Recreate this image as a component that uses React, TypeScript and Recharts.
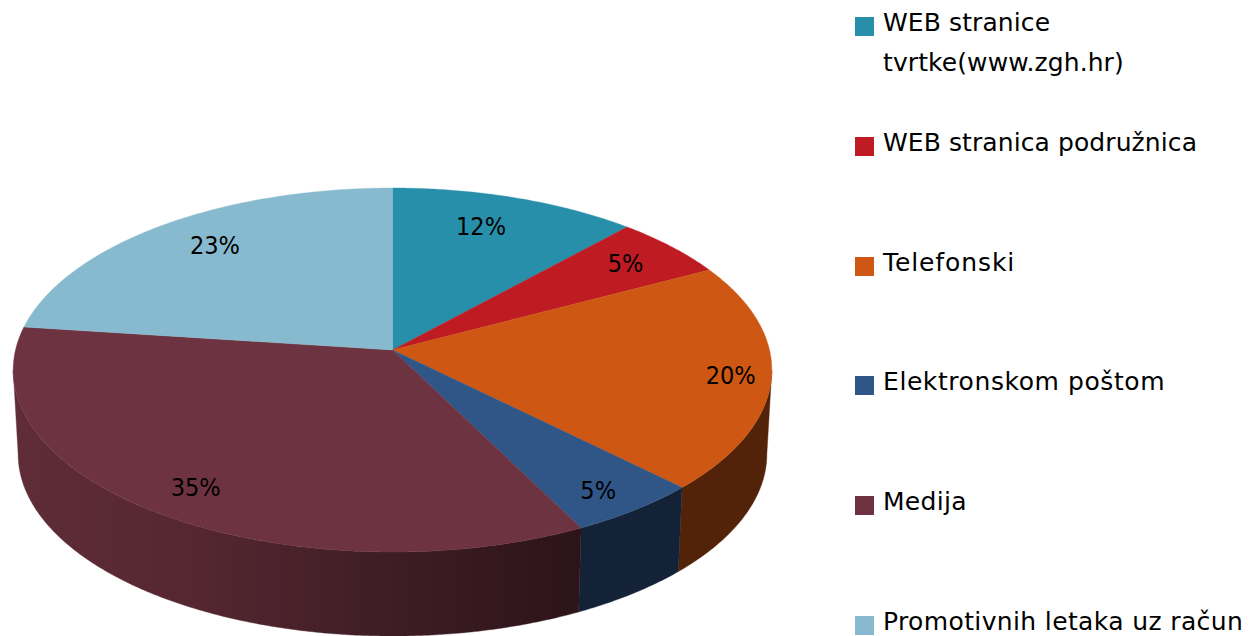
import React from 'react';
import { PieChart, Pie, Legend } from 'recharts';

const CATEGORIES = [
  'WEB stranice tvrtke(www.zgh.hr)',
  'WEB stranica podružnica',
  'Telefonski',
  'Elektronskom poštom',
  'Medija',
  'Promotivnih letaka uz račun',
];
const VALUES = [11.75, 5.49, 20.23, 5.08, 34.52, 22.93];
const COLORS = ['#288FAA', '#BE1B22', '#CD5713', '#305587', '#6E3340', '#88BACF'];

// Drawing style (not data)
const FONT = '"DejaVu Sans", sans-serif';
const LABEL_FONT = '"DejaVu Sans Condensed", "DejaVu Sans", sans-serif';
const TILT = 0.4769;
const PERSPECTIVE = 0.11;
const DEPTH = 84;
const BOTTOM_SCALE = 0.987;
const WALL_SHADE: [number, number][] = [[0, 0.86], [0.23, 0.77], [0.5, 0.56], [0.75, 0.4], [1, 0.4]];
const LABEL_RADIUS = 0.8;
const LABEL_NUDGE: [number, number][] = [[-12, 0], [7, -3], [36, 4], [15, 15], [-9, 11], [9, -3]];
const LEGEND_TRACKING = [0.1, 0.09, 0.9, 0.58, 0.3, 0.37];

const rows = CATEGORIES.map((name, i) => ({ name, value: VALUES[i], fill: COLORS[i] }));

const rad = (d: number) => (d * Math.PI) / 180;

function project(cx: number, cy: number, R: number, theta: number, r = 1): [number, number] {
  const w = 1 + PERSPECTIVE * r * Math.cos(rad(theta));
  return [cx + (R * r * Math.sin(rad(theta))) / w, cy - (R * TILT * r * Math.cos(rad(theta))) / w];
}

function shade(hex: string, k: number) {
  const n = parseInt(hex.slice(1), 16);
  const c = [(n >> 16) & 255, (n >> 8) & 255, n & 255].map((v) => Math.round(v * k));
  return `rgb(${c[0]},${c[1]},${c[2]})`;
}

function arc(from: number, to: number) {
  const out: number[] = [];
  const steps = Math.max(2, Math.ceil(Math.abs(to - from) / 0.5));
  for (let i = 0; i <= steps; i++) out.push(from + ((to - from) * i) / steps);
  return out;
}

function SliceShape(props: any) {
  const { cx, cy, outerRadius, startAngle, endAngle, fill, index } = props;
  const t0 = 90 - startAngle;
  const t1 = 90 - endAngle;
  const top = arc(t0, t1).map((t) => project(cx, cy, outerRadius, t));
  const face = `M${cx},${cy}L` + top.map((p) => `${p[0].toFixed(2)},${p[1].toFixed(2)}`).join('L') + 'Z';
  const tangent = (Math.acos(-PERSPECTIVE) * 180) / Math.PI;
  const a = Math.max(t0, tangent);
  const b = Math.min(t1, 360 - tangent);
  let wall = null;
  if (b > a) {
    const upper = arc(a, b).map((t) => project(cx, cy, outerRadius, t));
    const lower = upper
      .map(([x, y]) => [cx + (x - cx) * BOTTOM_SCALE, y + DEPTH] as [number, number])
      .reverse();
    const d = 'M' + upper.concat(lower).map((p) => `${p[0].toFixed(2)},${p[1].toFixed(2)}`).join('L') + 'Z';
    const id = `wall-${index ?? fill.slice(1)}`;
    wall = (
      <g>
        <defs>
          <linearGradient id={id} gradientUnits="userSpaceOnUse" x1={cx - outerRadius} x2={cx + outerRadius} y1={0} y2={0}>
            {WALL_SHADE.map(([o, k]) => (
              <stop key={o} offset={o} stopColor={shade(fill, k)} />
            ))}
          </linearGradient>
        </defs>
        <path d={d} fill={`url(#${id})`} stroke={`url(#${id})`} strokeWidth={0.4} />
      </g>
    );
  }
  return (
    <g>
      {wall}
      <path d={face} fill={fill} stroke={fill} strokeWidth={0.4} />
    </g>
  );
}

function SliceLabel(props: any) {
  const { cx, cy, outerRadius, midAngle, percent, index } = props;
  const [x, y] = project(cx, cy, outerRadius, 90 - midAngle, LABEL_RADIUS);
  const [dx, dy] = LABEL_NUDGE[index];
  return (
    <text x={x + dx} y={y + dy} textAnchor="middle" dominantBaseline="central" fontFamily={LABEL_FONT} fontSize={25} fill="#000">
      {`${Math.round(percent * 100)}%`}
    </text>
  );
}

function LegendBox({ payload }: any) {
  return (
    <div style={{ position: 'relative', width: 395, height: 636, fontFamily: FONT, fontSize: 25, lineHeight: '40px', color: '#000' }}>
      {(payload ?? []).map((entry: any, i: number) => (
        <div key={i} style={{ position: 'absolute', left: 0, top: 3 + i * 119.8, width: 395 }}>
          <span style={{ position: 'absolute', left: 0, top: 14, width: 19, height: 19, background: entry.color }} />
          <span style={{ display: 'block', marginLeft: 28, letterSpacing: LEGEND_TRACKING[i] }}>{entry.value}</span>
        </div>
      ))}
    </div>
  );
}

export default function App() {
  return (
    <div style={{ position: 'absolute', left: 0, top: 0, width: 1250, height: 636, overflow: 'hidden' }}>
      <PieChart width={1250} height={636} margin={{ top: 0, right: 0, bottom: 0, left: 0 }}>
        <Pie
          data={rows}
          dataKey="value"
          nameKey="name"
          cx={392.5}
          cy={350}
          outerRadius={377}
          startAngle={90}
          endAngle={-270}
          paddingAngle={0}
          stroke="none"
          isAnimationActive={false}
          labelLine={false}
          label={SliceLabel}
          shape={SliceShape}
        />
        <Legend
          layout="vertical"
          align="right"
          verticalAlign="top"
          content={LegendBox}
          itemSorter={null}
          wrapperStyle={{ position: 'absolute', left: 855, top: 0, width: 395, height: 636 }}
        />
      </PieChart>
    </div>
  );
}
